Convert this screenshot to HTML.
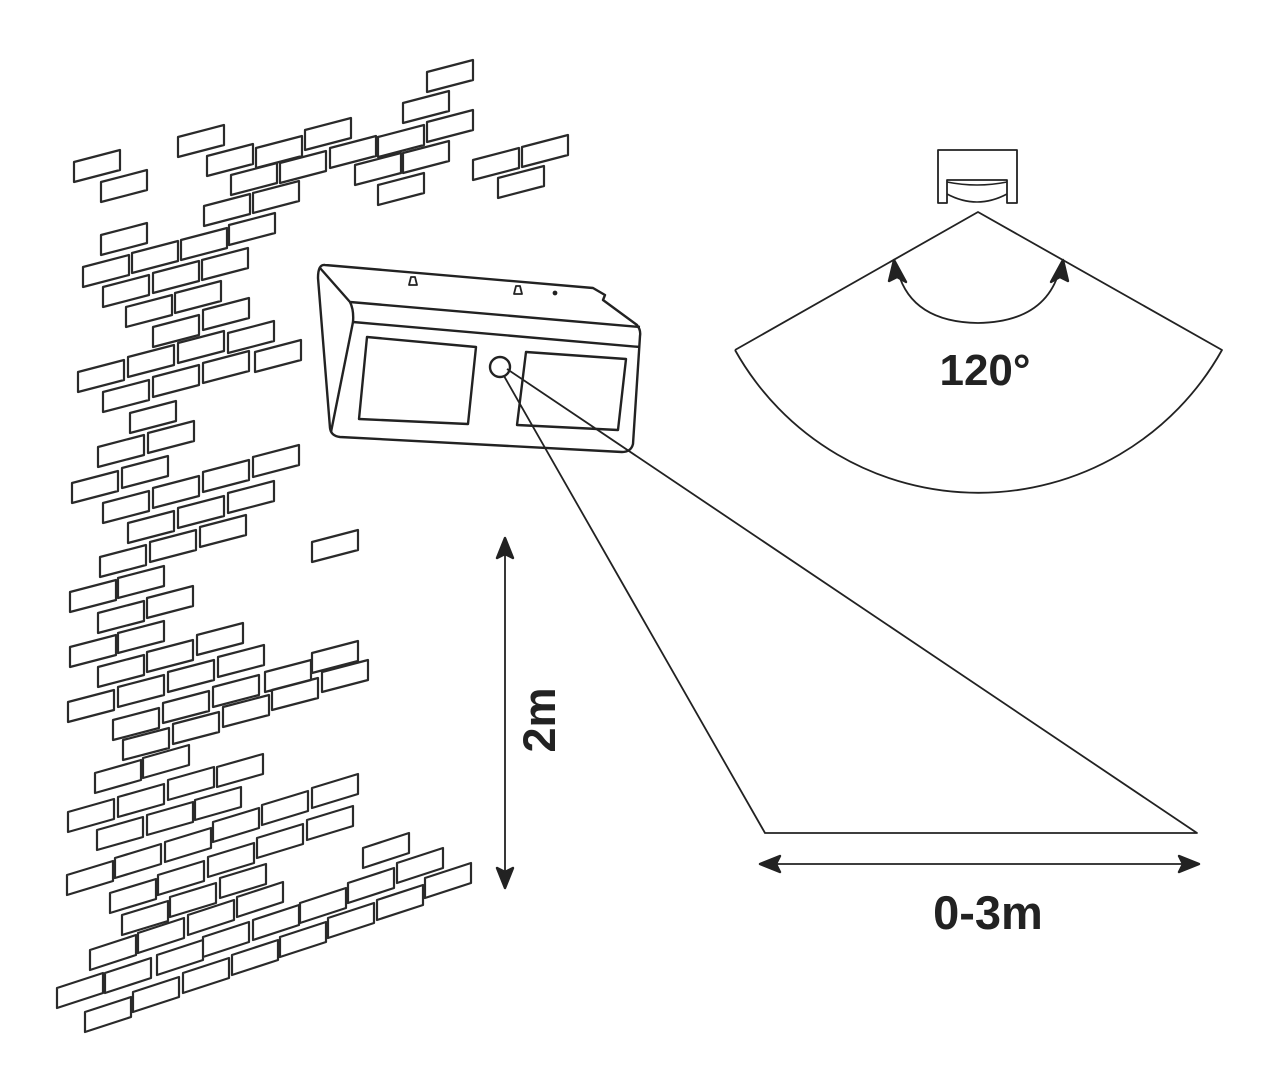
<!DOCTYPE html>
<html><head><meta charset="utf-8"><style>
html,body{margin:0;padding:0;background:#fff;}
svg{display:block}
text{font-family:"Liberation Sans",sans-serif;font-weight:bold;fill:#222}
</style></head><body>
<svg width="1273" height="1080" viewBox="0 0 1273 1080" xmlns="http://www.w3.org/2000/svg">
<g fill="none" stroke="#2a2a2a" stroke-width="2.2" stroke-linejoin="round">
<path d="
M74 162 l46 -12 v20 l-46 12 z
M101 182 l46 -12 v20 l-46 12 z
M178 137 l46 -12 v20 l-46 12 z
M207 156 l46 -12 v20 l-46 12 z
M256 148 l46 -12 v20 l-46 12 z
M305 130 l46 -12 v20 l-46 12 z
M231 175 l46 -12 v20 l-46 12 z
M280 163 l46 -12 v20 l-46 12 z
M330 148 l46 -12 v20 l-46 12 z
M204 206 l46 -12 v20 l-46 12 z
M253 193 l46 -12 v20 l-46 12 z
M355 165 l46 -12 v20 l-46 12 z
M378 137 l46 -12 v20 l-46 12 z
M403 103 l46 -12 v20 l-46 12 z
M427 72 l46 -12 v20 l-46 12 z
M427 122 l46 -12 v20 l-46 12 z
M403 153 l46 -12 v20 l-46 12 z
M378 185 l46 -12 v20 l-46 12 z
M473 160 l46 -12 v20 l-46 12 z
M522 147 l46 -12 v20 l-46 12 z
M498 178 l46 -12 v20 l-46 12 z
M101 235 l46 -12 v20 l-46 12 z
M83 267 l46 -12 v20 l-46 12 z
M132 253 l46 -12 v20 l-46 12 z
M181 240 l46 -12 v20 l-46 12 z
M229 225 l46 -12 v20 l-46 12 z
M103 287 l46 -12 v20 l-46 12 z
M153 273 l46 -12 v20 l-46 12 z
M202 260 l46 -12 v20 l-46 12 z
M126 307 l46 -12 v20 l-46 12 z
M175 293 l46 -12 v20 l-46 12 z
M153 327 l46 -12 v20 l-46 12 z
M203 310 l46 -12 v20 l-46 12 z
M78 372 l46 -12 v20 l-46 12 z
M128 357 l46 -12 v20 l-46 12 z
M178 343 l46 -12 v20 l-46 12 z
M228 333 l46 -12 v20 l-46 12 z
M255 352 l46 -12 v20 l-46 12 z
M103 392 l46 -12 v20 l-46 12 z
M153 377 l46 -12 v20 l-46 12 z
M203 363 l46 -12 v20 l-46 12 z
M130 413 l46 -12 v20 l-46 12 z
M98 447 l46 -12 v20 l-46 12 z
M148 433 l46 -12 v20 l-46 12 z
M72 483 l46 -12 v20 l-46 12 z
M122 468 l46 -12 v20 l-46 12 z
M103 503 l46 -12 v20 l-46 12 z
M153 488 l46 -12 v20 l-46 12 z
M203 472 l46 -12 v20 l-46 12 z
M253 457 l46 -12 v20 l-46 12 z
M128 523 l46 -12 v20 l-46 12 z
M178 508 l46 -12 v20 l-46 12 z
M228 493 l46 -12 v20 l-46 12 z
M100 557 l46 -12 v20 l-46 12 z
M150 542 l46 -12 v20 l-46 12 z
M200 527 l46 -12 v20 l-46 12 z
M312 542 l46 -12 v20 l-46 12 z
M70 592 l46 -12 v20 l-46 12 z
M118 578 l46 -12 v20 l-46 12 z
M98 613 l46 -12 v20 l-46 12 z
M147 598 l46 -12 v20 l-46 12 z
M70 647 l46 -12 v20 l-46 12 z
M118 633 l46 -12 v20 l-46 12 z
M98 667 l46 -12 v20 l-46 12 z
M147 652 l46 -12 v20 l-46 12 z
M197 635 l46 -12 v20 l-46 12 z
M68 702 l46 -12 v20 l-46 12 z
M118 687 l46 -12 v20 l-46 12 z
M168 672 l46 -12 v20 l-46 12 z
M218 657 l46 -12 v20 l-46 12 z
M265 672 l46 -12 v20 l-46 12 z
M312 653 l46 -12 v20 l-46 12 z
M113 720 l46 -12 v20 l-46 12 z
M163 703 l46 -12 v20 l-46 12 z
M213 687 l46 -12 v20 l-46 12 z
M272 690 l46 -12 v20 l-46 12 z
M322 672 l46 -12 v20 l-46 12 z
M123 740 l46 -12 v20 l-46 12 z
M173 724 l46 -12 v20 l-46 12 z
M223 707 l46 -12 v20 l-46 12 z
M95 773 l46 -13 v20 l-46 13 z
M143 758 l46 -13 v20 l-46 13 z
M68 812 l46 -13 v20 l-46 13 z
M118 797 l46 -13 v20 l-46 13 z
M168 780 l46 -13 v20 l-46 13 z
M217 767 l46 -13 v20 l-46 13 z
M97 830 l46 -13 v20 l-46 13 z
M147 815 l46 -13 v20 l-46 13 z
M195 800 l46 -13 v20 l-46 13 z
M67 875 l46 -14 v20 l-46 14 z
M115 858 l46 -14 v20 l-46 14 z
M165 842 l46 -14 v20 l-46 14 z
M213 822 l46 -14 v20 l-46 14 z
M262 805 l46 -14 v20 l-46 14 z
M312 788 l46 -14 v20 l-46 14 z
M110 893 l46 -14 v20 l-46 14 z
M158 875 l46 -14 v20 l-46 14 z
M208 857 l46 -14 v20 l-46 14 z
M257 838 l46 -14 v20 l-46 14 z
M307 820 l46 -14 v20 l-46 14 z
M122 915 l46 -14 v20 l-46 14 z
M170 897 l46 -14 v20 l-46 14 z
M220 878 l46 -14 v20 l-46 14 z
M90 950 l46 -15 v20 l-46 15 z
M138 933 l46 -15 v20 l-46 15 z
M188 915 l46 -15 v20 l-46 15 z
M237 897 l46 -15 v20 l-46 15 z
M253 920 l46 -15 v20 l-46 15 z
M300 903 l46 -15 v20 l-46 15 z
M348 883 l46 -15 v20 l-46 15 z
M397 863 l46 -15 v20 l-46 15 z
M363 848 l46 -15 v20 l-46 15 z
M57 988 l46 -15 v20 l-46 15 z
M105 973 l46 -15 v20 l-46 15 z
M157 955 l46 -15 v20 l-46 15 z
M203 937 l46 -15 v20 l-46 15 z
M280 937 l46 -15 v20 l-46 15 z
M328 918 l46 -15 v20 l-46 15 z
M377 900 l46 -15 v20 l-46 15 z
M425 878 l46 -15 v20 l-46 15 z
M85 1012 l46 -15 v20 l-46 15 z
M133 992 l46 -15 v20 l-46 15 z
M183 973 l46 -15 v20 l-46 15 z
M232 955 l46 -15 v20 l-46 15 z
"/>
</g>
<g fill="none" stroke="#222" stroke-width="2.4" stroke-linejoin="round">
<path d="M325 265 L593 288 L605 295 L603 300 L637 325 Q641 330 640 336 L633 444 Q631 452 622 452 L340 437 Q331 436 330 428 L318 278 Q318 264 325 265 Z"/>
<path d="M320 268 L350 302 L640 327"/>
<path d="M350 302 Q354 310 353 322 L640 347"/>
<path d="M353 322 L331 432"/>
<path d="M367 337 L476 347 L468 424 L359 419 Z"/>
<path d="M526 352 L626 359 L618 430 L517 425 Z"/>
<circle cx="500" cy="367" r="10" fill="#fff"/>
<path d="M409 285 L411 277 L415 277 L417 285 Z" stroke-width="1.8"/>
<path d="M514 294 L516 286 L520 286 L522 294 Z" stroke-width="1.8"/>
<circle cx="555" cy="293" r="1.2" fill="#222"/>
<path d="M504 376 L765 833 L1197 833 L507 369" stroke-width="1.8"/>
<path d="M766 864 L1193 864" stroke-width="1.8"/>
<path d="M760 864 L780 856 L776 864 L780 872 Z" fill="#222"/>
<path d="M1199 864 L1179 856 L1183 864 L1179 872 Z" fill="#222"/>
<path d="M505 544 L505 882" stroke-width="1.8"/>
<path d="M505 538 L497 558 L505 554 L513 558 Z" fill="#222"/>
<path d="M505 888 L497 868 L505 872 L513 868 Z" fill="#222"/>
<path d="M938 150 L1017 150 L1017 203 L1007 203 L1007 180 L947 180 L947 203 L938 203 Z" stroke-width="1.8"/>
<path d="M947 182 Q977 188 1007 182" stroke-width="1.6"/>
<path d="M947 194 Q977 210 1007 194" stroke-width="1.6"/>
<path d="M735 350 L978 212 L1222 350 A279 279 0 0 1 735 350" stroke-width="1.8"/>
<path d="M898 272 Q912 322 978 323 Q1044 322 1059 272" stroke-width="1.8"/>
<path d="M894 260 L889 281 L897 277 L906 282 Z" fill="#222"/>
<path d="M1063 260 L1051 282 L1060 277 L1068 281 Z" fill="#222"/>
</g>
<text x="985" y="385" font-size="44" text-anchor="middle">120°</text>
<text x="988" y="929" font-size="47" text-anchor="middle">0-3m</text>
<text x="0" y="0" font-size="45" text-anchor="middle" transform="translate(555,720) rotate(-90)">2m</text>
</svg>
</body></html>
